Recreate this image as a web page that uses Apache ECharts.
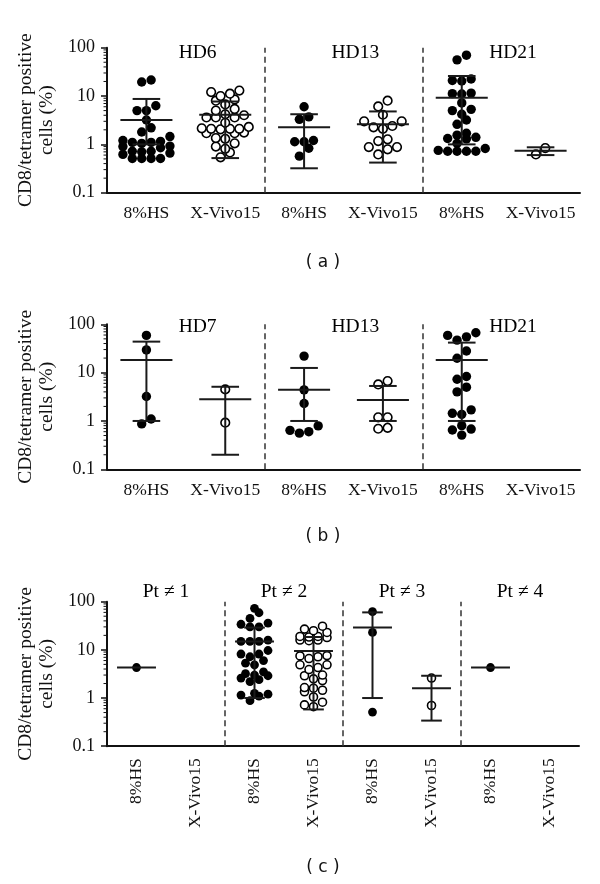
<!DOCTYPE html>
<html><head><meta charset="utf-8">
<script src="https://cdn.jsdelivr.net/npm/echarts@6/dist/echarts.min.js"></script>
<style>html,body{margin:0;padding:0;background:#fff;}#chart{width:600px;height:884px;}</style>
</head><body><div id="chart"></div>
<script>
// ================= DATA =================
const categoriesAB = ['8%HS', 'X-Vivo15', '8%HS', 'X-Vivo15', '8%HS', 'X-Vivo15'];
const categoriesC = ['8%HS', 'X-Vivo15', '8%HS', 'X-Vivo15', '8%HS', 'X-Vivo15', '8%HS', 'X-Vivo15'];
const groupsA = ['HD6', 'HD13', 'HD21'];
const groupsB = ['HD7', 'HD13', 'HD21'];
const groupsC = ['Pt \u2260 1', 'Pt \u2260 2', 'Pt \u2260 3', 'Pt \u2260 4'];
const yTickLabels = ['0.1', '1', '10', '100'];
const yAxisTitle = 'CD8/tetramer positive\ncells (%)';
const panelLabels = ['( a )', '( b )', '( c )'];

// panel (a)
const a_HD6_HS = [21.5, 19.5, 6.3, 5.0, 5.0, 3.2, 2.2, 1.8, 1.45, 1.2, 1.15, 1.1, 1.1, 1.05, 0.92, 0.9, 0.85, 0.72, 0.72, 0.7, 0.66, 0.62, 0.51, 0.51, 0.51, 0.51];
const a_HD6_XV = [13, 12.1, 11.2, 10, 8.5, 8.0, 6.7, 5.4, 5.0, 4.2, 4.0, 3.6, 3.6, 3.6, 2.8, 2.3, 2.15, 2.1, 2.1, 2.05, 2.1, 1.7, 1.7, 1.75, 1.35, 1.3, 1.05, 0.9, 0.81, 0.68, 0.54];
const a_HD13_HS = [6.0, 3.7, 3.3, 1.2, 1.13, 1.13, 0.83, 0.57];
const a_HD13_XV = [8.0, 6.1, 4.1, 3.0, 3.0, 2.4, 2.1, 2.25, 1.27, 1.17, 0.88, 0.88, 0.79, 0.62];
const a_HD21_HS = [70, 56, 22.5, 21, 20.5, 11.5, 11.2, 11, 7.2, 5.3, 5.0, 4.2, 3.2, 2.6, 1.7, 1.55, 1.4, 1.32, 1.3, 1.05, 0.82, 0.72, 0.72, 0.72, 0.72, 0.75];
const a_HD21_XV = [0.84, 0.62];
const a_mean  = [3.2, 4.1, 2.25, 2.6, 9.2, 0.74];
const a_upper = [8.7, 7.7, 4.2, 4.8, 26, 0.87];
const a_lower = [1.0, 0.52, 0.32, 0.42, 1.0, 0.6];

// panel (b)
const b_HD7_HS = [59, 29.5, 3.2, 1.1, 0.87];
const b_HD7_XV = [4.5, 0.92];
const b_HD13_HS = [22, 4.4, 2.3, 0.79, 0.64, 0.6, 0.56];
const b_HD13_XV = [6.7, 5.7, 1.19, 1.19, 0.72, 0.69];
const b_HD21_HS = [67, 59, 55, 47, 28, 19.8, 8.3, 7.3, 5.0, 4.0, 1.7, 1.44, 1.37, 0.8, 0.68, 0.65, 0.51];
const b_HD21_XV = [];
const b_mean  = [18.3, 2.8, 4.45, 2.7, 18.3, null];
const b_upper = [43.8, 5.1, 12.5, 5.3, 41.8, null];
const b_lower = [1.0, 0.2, 1.0, 1.0, 1.0, null];

// panel (c)
const c_Pt1_HS = [4.3];
const c_Pt1_XV = [];
const c_Pt2_HS = [73, 59, 45, 36, 34, 30, 30, 16, 15, 15, 15, 9.7, 8.2, 8.2, 7.2, 6.0, 5.3, 4.9, 3.5, 3.2, 2.9, 3.0, 2.6, 2.4, 2.2, 1.25, 1.2, 1.15, 1.1, 0.88];
const c_Pt2_XV = [31, 27, 25, 23, 19, 19, 18.5, 18, 16, 16, 15.5, 7.6, 7.5, 7.2, 6.6, 4.9, 4.9, 4.3, 3.9, 3.0, 2.9, 2.5, 2.3, 1.65, 1.6, 1.45, 1.35, 1.05, 0.82, 0.72, 0.66];
const c_Pt3_HS = [62, 23, 0.51];
const c_Pt3_XV = [2.6, 0.70];
const c_Pt4_HS = [4.3];
const c_Pt4_XV = [];
const c_mean  = [4.3, null, 15, 9.5, 29, 1.6, 4.3, null];
const c_upper = [null, null, 29, 18.5, 60, 2.9, null, null];
const c_lower = [null, null, 1.0, 0.58, 1.0, 0.34, null, null];

// ================= LAYOUT / STYLE =================
const SERIF = '"Liberation Serif", "Times New Roman", serif';
const INK = '#111111';
const panels = [
  { cats: categoriesAB, groups: groupsA, pts: [a_HD6_HS, a_HD6_XV, a_HD13_HS, a_HD13_XV, a_HD21_HS, a_HD21_XV],
    mean: a_mean, upper: a_upper, lower: a_lower, grid: { left: 107, top: 47.7, width: 473, height: 145 },
    rotate: 0, titleShift: 0.15, titleDy: 5, label: 263, dot: 9.4, gap: 9.4 },
  { cats: categoriesAB, groups: groupsB, pts: [b_HD7_HS, b_HD7_XV, b_HD13_HS, b_HD13_XV, b_HD21_HS, b_HD21_XV],
    mean: b_mean, upper: b_upper, lower: b_lower, grid: { left: 107, top: 324.3, width: 473, height: 145 },
    rotate: 0, titleShift: 0.15, titleDy: 2.5, label: 537, dot: 9.4, gap: 9.4 },
  { cats: categoriesC, groups: groupsC, pts: [c_Pt1_HS, c_Pt1_XV, c_Pt2_HS, c_Pt2_XV, c_Pt3_HS, c_Pt3_XV, c_Pt4_HS, c_Pt4_XV],
    mean: c_mean, upper: c_upper, lower: c_lower, grid: { left: 107, top: 601.7, width: 472, height: 144.5 },
    rotate: 90, titleShift: 0, titleDy: -10, label: 868, dot: 8.8, gap: 9 }
];

// GraphPad-like scatter layout: points binned into rows by value, rows centred on category
function swarm(values, catIdx, decadePx, catPx, d) {
  const sorted = values.slice().sort((p, q) => p - q);
  const maxPerRow = Math.floor(0.6 * catPx / d) + 1;
  const rows = []; let cur = null;
  sorted.forEach(v => {
    const y = Math.log10(v) * decadePx;
    if (cur && y - cur.y0 < d * 0.85 && cur.vals.length < maxPerRow) cur.vals.push(v);
    else { cur = { y0: y, vals: [v] }; rows.push(cur); }
  });
  const out = [];
  rows.forEach(r => {
    const n = r.vals.length, slots = [];
    for (let j = 0; j < n; j++) slots.push(j - (n - 1) / 2);
    slots.sort((p, q) => Math.abs(p) - Math.abs(q) || p - q);
    r.vals.forEach((v, k) => out.push([catIdx + 0.5 + slots[k] * d / catPx, v]));
  });
  return out;
}

const MEAN_HW = 0.33, CAP_HW = 0.175;
const minorTickValues = [];
[-1, 0, 1].forEach(e => { for (let m = 2; m <= 9; m++) minorTickValues.push([0, m * Math.pow(10, e)]); });

const grids = [], xAxes = [], yAxes = [], series = [], graphics = [];
panels.forEach((P, i) => {
  const N = P.cats.length;
  grids.push(P.grid);
  const catPx = P.grid.width / N, decadePx = P.grid.height / 3;
  xAxes.push({
    type: 'category', gridIndex: i, data: P.cats, boundaryGap: true,
    axisLine: { lineStyle: { color: INK, width: 2 } },
    axisTick: { alignWithLabel: true, length: 6, lineStyle: { color: INK, width: 1.5 } },
    axisLabel: { interval: 0, rotate: P.rotate, margin: 12, fontFamily: SERIF, fontSize: 17.5, color: INK },
    splitLine: { show: false }
  });
  xAxes.push({ type: 'value', gridIndex: i, min: 0, max: N, show: false, splitLine: { show: false } });
  yAxes.push({
    type: 'log', logBase: 10, gridIndex: i, min: 0.1, max: 100,
    name: yAxisTitle, nameLocation: 'middle', nameRotate: 90, nameGap: 47,
    nameTextStyle: { fontFamily: SERIF, fontSize: 19.5, lineHeight: 21, color: INK },
    axisLine: { show: true, lineStyle: { color: INK, width: 2 } },
    axisTick: { show: true, length: 6, lineStyle: { color: INK, width: 1.5 } },
    axisLabel: { margin: 12, fontFamily: SERIF, fontSize: 18, color: INK,
      formatter: v => yTickLabels[Math.round(Math.log10(v)) + 1] },
    splitLine: { show: false }
  });
  const xIdx = 2 * i + 1;
  const filled = [], open = [];
  P.pts.forEach((vals, c) => {
    const arr = swarm(vals, c, decadePx, catPx, P.gap);
    (c % 2 === 0 ? filled : open).push(...arr);
  });
  const seps = [];
  for (let g = 1; g < P.groups.length; g++) seps.push({ xAxis: g * 2 });
  series.push({
    type: 'scatter', xAxisIndex: xIdx, yAxisIndex: i, data: filled, symbol: 'circle', symbolSize: P.dot,
    itemStyle: { color: '#000', opacity: 1 }, z: 3, silent: true,
    markLine: { silent: true, symbol: ['none', 'none'], label: { show: false },
      lineStyle: { color: '#333', width: 1.5, type: [6, 4], opacity: 1 }, data: seps, animation: false }
  });
  series.push({
    type: 'scatter', xAxisIndex: xIdx, yAxisIndex: i, data: open, symbol: 'circle', symbolSize: P.dot - 0.8,
    itemStyle: { color: '#fff', borderColor: '#000', borderWidth: 1.6, opacity: 1 }, z: 3, silent: true
  });
  const bars = [];
  P.mean.forEach((m, c) => {
    if (m == null) return;
    const lo = P.lower[c] == null ? m : P.lower[c];
    const hi = P.upper[c] == null ? m : P.upper[c];
    bars.push([c + 0.5, m, lo, hi]);
  });
  series.push({
    type: 'custom', xAxisIndex: xIdx, yAxisIndex: i, data: bars, z: 4, silent: true, clip: false,
    renderItem: (params, api) => {
      const x = api.value(0), m = api.value(1), lo = api.value(2), hi = api.value(3);
      const pm = api.coord([x, m]);
      const hw = api.coord([x + MEAN_HW, m])[0] - pm[0];
      const cw = api.coord([x + CAP_HW, m])[0] - pm[0];
      const st = { stroke: '#1a1a1a', lineWidth: 2, fill: null };
      const ch = [{ type: 'line', shape: { x1: pm[0] - hw, y1: pm[1], x2: pm[0] + hw, y2: pm[1] }, style: st }];
      if (hi > lo) {
        const pl = api.coord([x, lo]), ph = api.coord([x, hi]);
        ch.push({ type: 'line', shape: { x1: pm[0], y1: pl[1], x2: pm[0], y2: ph[1] }, style: st });
        ch.push({ type: 'line', shape: { x1: pm[0] - cw, y1: pl[1], x2: pm[0] + cw, y2: pl[1] }, style: st });
        ch.push({ type: 'line', shape: { x1: pm[0] - cw, y1: ph[1], x2: pm[0] + cw, y2: ph[1] }, style: st });
      }
      return { type: 'group', children: ch };
    }
  });
  // minor log ticks
  series.push({
    type: 'custom', xAxisIndex: xIdx, yAxisIndex: i, data: minorTickValues, silent: true, clip: false, z: 2,
    renderItem: (params, api) => {
      const p = api.coord([api.value(0), api.value(1)]);
      return { type: 'line', shape: { x1: p[0] - 3.5, y1: p[1], x2: p[0], y2: p[1] }, style: { stroke: INK, lineWidth: 1 } };
    }
  });
  // group titles
  series.push({
    type: 'scatter', xAxisIndex: xIdx, yAxisIndex: i, symbolSize: 0, clip: false, silent: true, z: 5,
    itemStyle: { opacity: 1 },
    data: P.groups.map((g, k) => ({ name: g, value: [k * 2 + 1 + P.titleShift, 100] })),
    label: { show: true, position: 'inside', offset: [0, P.titleDy], formatter: '{b}',
      fontFamily: SERIF, fontSize: 19.5, color: '#000', textBorderWidth: 0, opacity: 1 }
  });
  graphics.push({ type: 'text', x: 323, y: P.label,
    style: { text: panelLabels[i], font: '17px "DejaVu Sans", sans-serif', fill: INK,
      align: 'center', verticalAlign: 'middle', textAlign: 'center', textVerticalAlign: 'middle' } });
});

const chart = echarts.init(document.getElementById('chart'), null, { renderer: 'canvas' });
chart.setOption({
  animation: false, backgroundColor: '#fff',
  grid: grids, xAxis: xAxes, yAxis: yAxes, series: series, graphic: graphics
});
</script></body></html>
